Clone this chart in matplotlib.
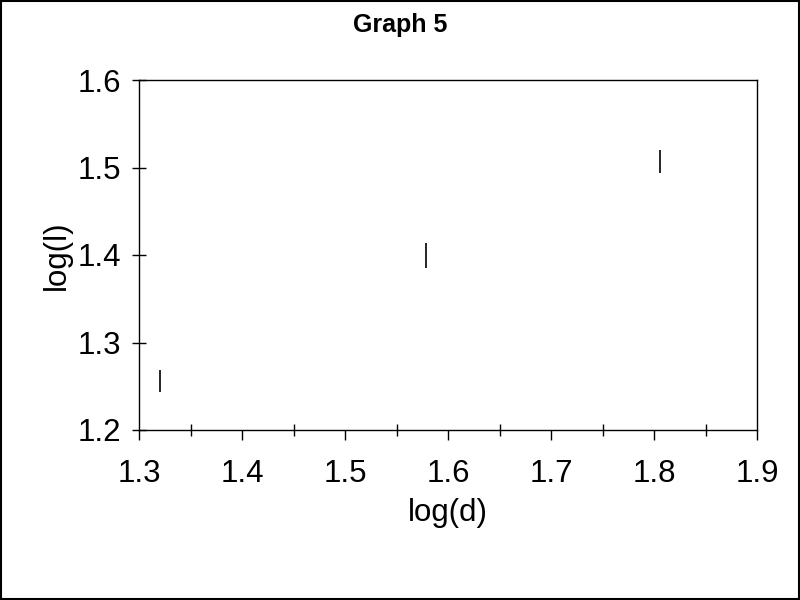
import matplotlib.pyplot as plt
from matplotlib.patches import Rectangle
from matplotlib.ticker import MultipleLocator

# values
log_d = [1.3204, 1.5786, 1.8058]
log_l = [1.256, 1.3994, 1.5069]
err = [0.0126, 0.0143, 0.013]

plt.rcParams['font.family'] = ['Liberation Sans', 'DejaVu Sans']

fig = plt.figure(figsize=(8, 6), dpi=100)
ax = fig.add_axes([139 / 800, 1 - 430 / 600, (757 - 139) / 800, (430 - 80) / 600])

ax.errorbar(log_d, log_l, yerr=err, fmt='none', ecolor='black', elinewidth=1.2, capsize=0)

ax.set_xlim(1.3, 1.9)
ax.set_ylim(1.2, 1.6)
ax.xaxis.set_major_locator(MultipleLocator(0.1))
ax.xaxis.set_minor_locator(MultipleLocator(0.05))
ax.yaxis.set_major_locator(MultipleLocator(0.1))
ax.tick_params(axis='x', which='major', direction='out', length=7, width=1, labelsize=22.5, pad=14)
ax.tick_params(axis='x', which='minor', direction='inout', length=8, width=1)
ax.tick_params(axis='y', which='major', direction='inout', length=10, width=1, labelsize=22.5, pad=8)
for s in ax.spines.values():
    s.set_linewidth(1)

ax.set_xlabel('log(d)', fontsize=22.5, labelpad=6)
ax.set_ylabel('log(l)', fontsize=22.5, labelpad=4)
fig.text(0.5, 1 - 25 / 600, 'Graph 5', ha='center', va='center', fontsize=18, fontweight='bold')

fig.patches.append(Rectangle((0.001, 0.001), 0.998, 0.997, transform=fig.transFigure,
                             fill=False, edgecolor='black', linewidth=1.5))

fig.savefig('out.png', dpi=100)
